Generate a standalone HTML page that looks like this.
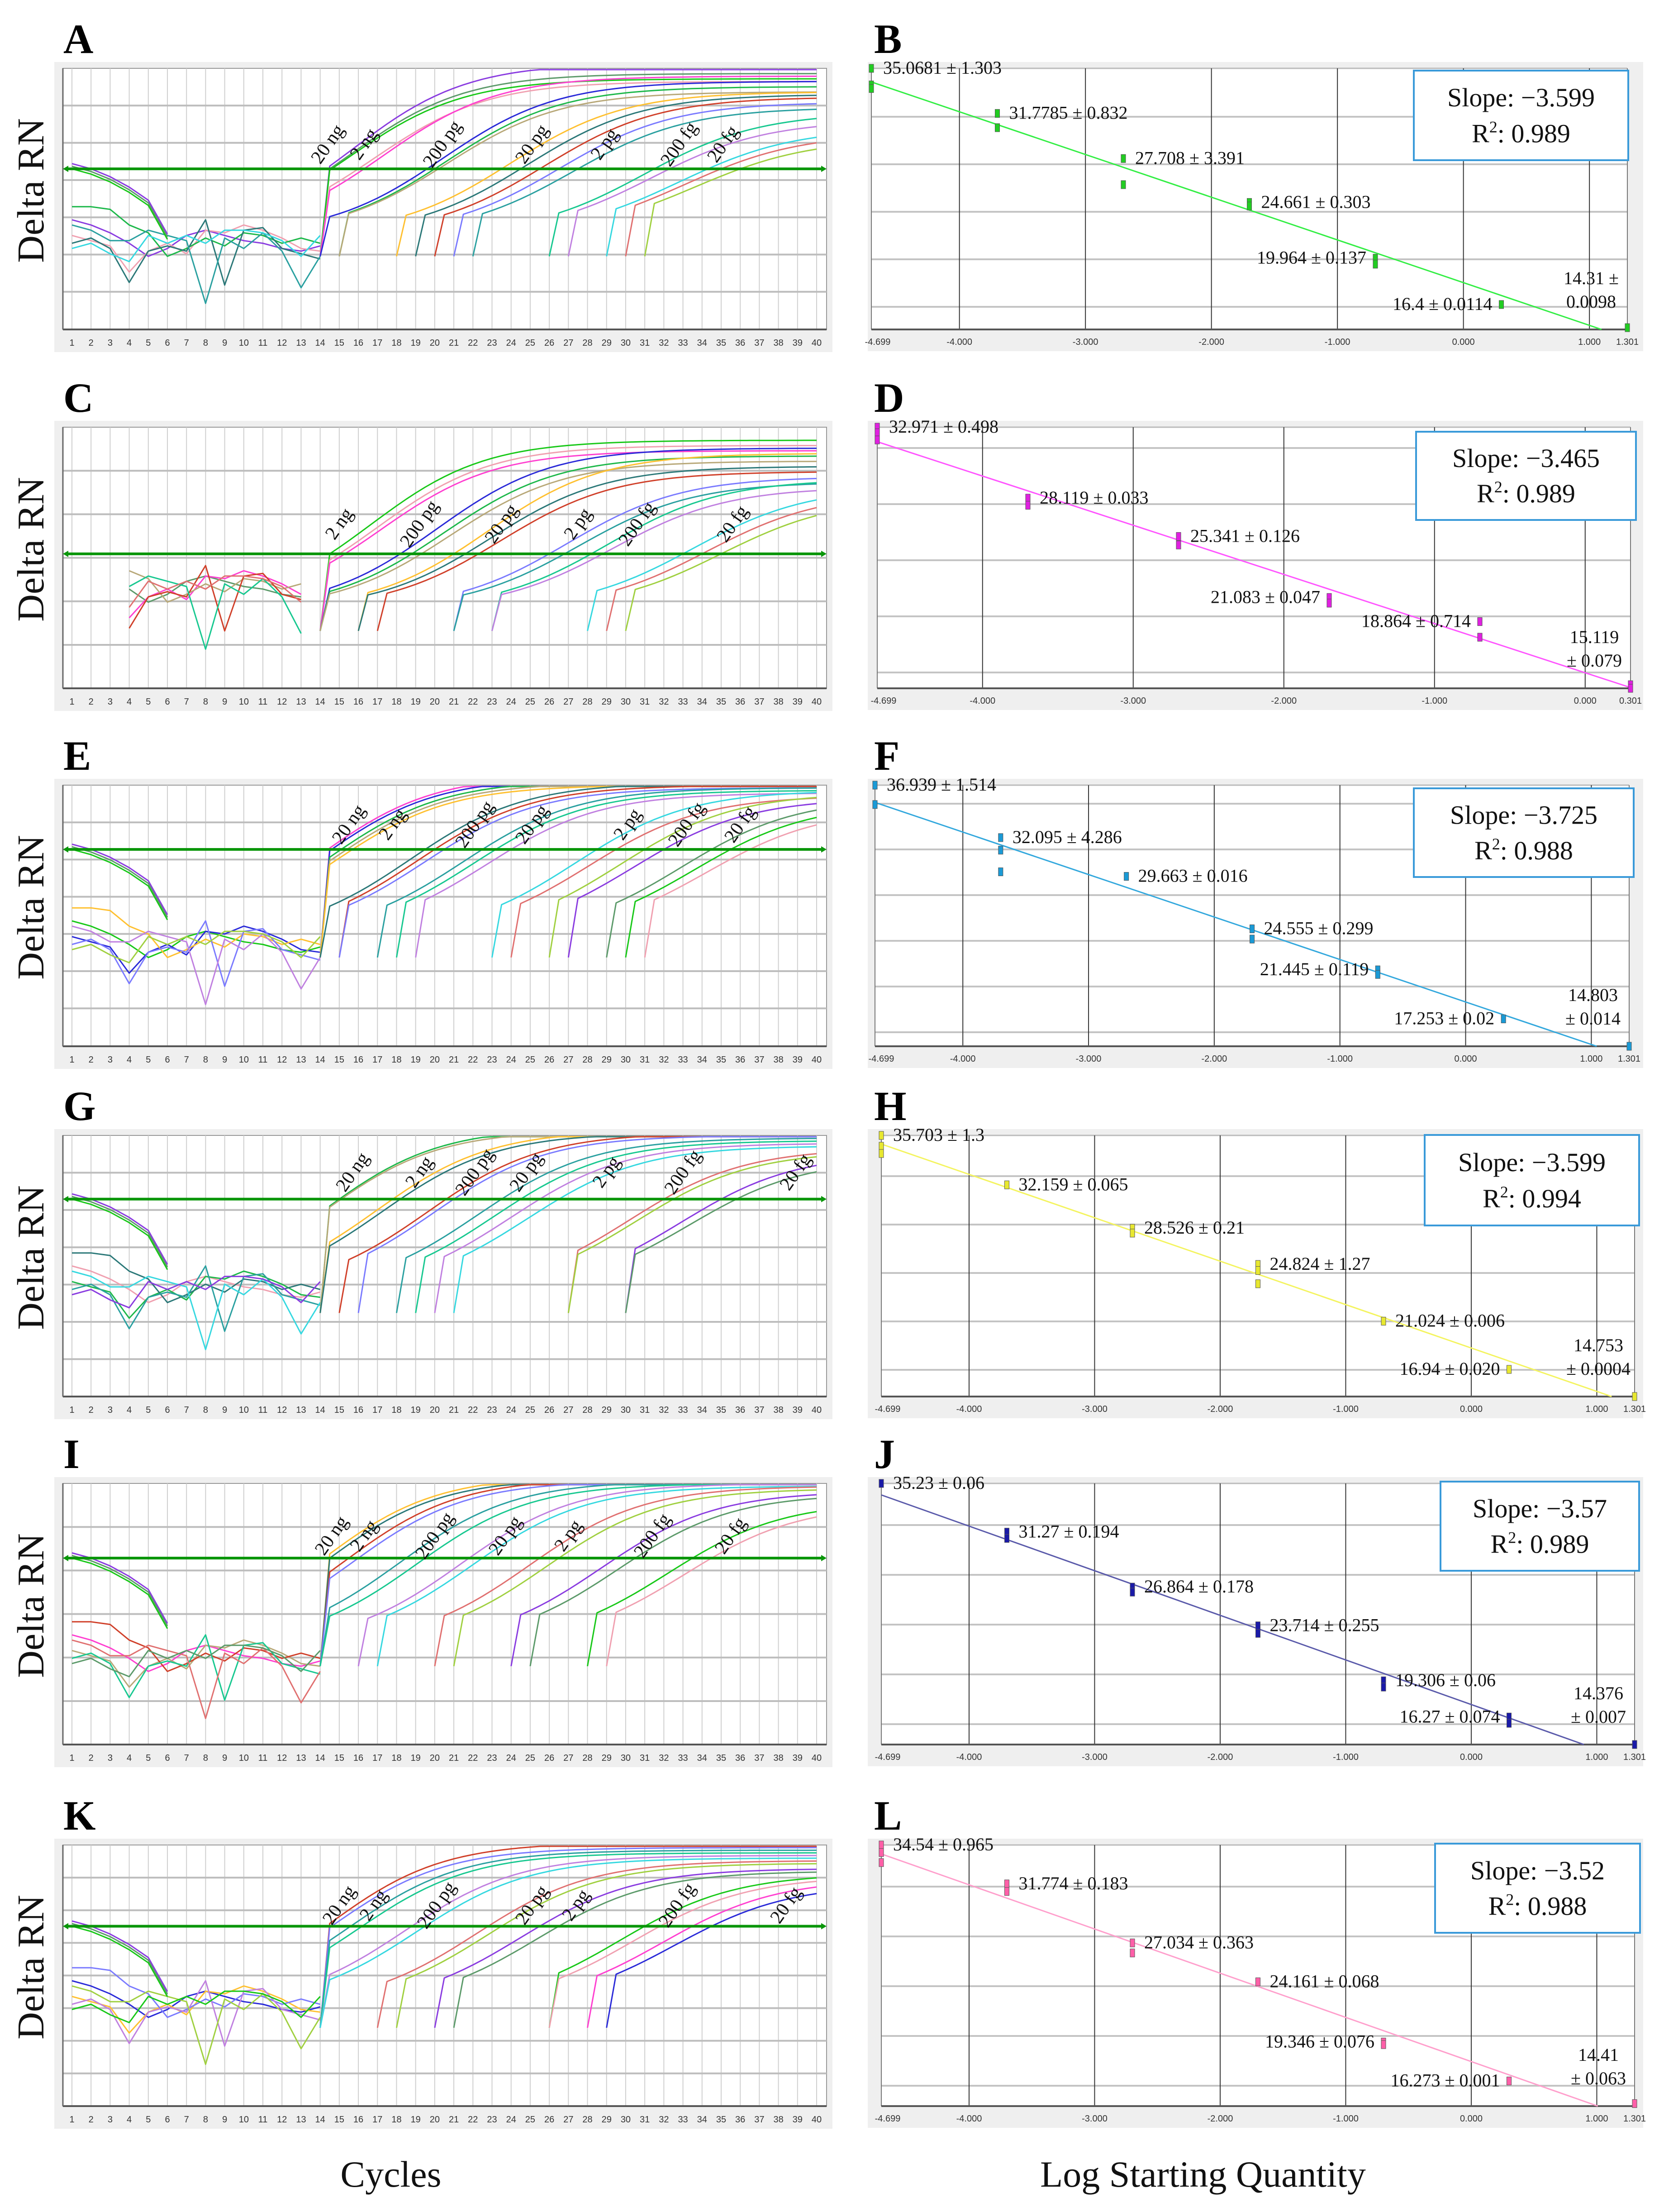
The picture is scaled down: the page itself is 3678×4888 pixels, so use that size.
<!DOCTYPE html>
<html><head><meta charset="utf-8"><title>qPCR amplification and standard curves</title>
<style>
html,body{margin:0;padding:0;background:#fff;}
svg{display:block;}
text{font-family:"Liberation Serif",serif;}
.tick{font-family:"Liberation Sans",sans-serif;font-size:20px;fill:#333;}
</style></head>
<body>
<svg id="fig" xmlns="http://www.w3.org/2000/svg" width="3678" height="4888" viewBox="0 0 3678 4888">
<rect x="0" y="0" width="3678" height="4888" fill="#ffffff"/>
<text x="864" y="4832" font-size="82" text-anchor="middle" fill="#111">Cycles</text>
<text x="2659" y="4832" font-size="82" text-anchor="middle" fill="#111">Log Starting Quantity</text>
</svg>
<script>
// ---------- amplification panel data ----------
const ampLetters=['A','C','E','G','I','K'];
const ampThreshold=[0.615,0.515,0.754,0.756,0.714,0.689];
const ampBase=[0.36,0.30,0.42,0.40,0.38,0.38];
const ampNoiseShift=[0.0,0.05,0.06,0.08,0.0,0.06];
const ampCtA=[14.3,14.5,14.6,16.0,16.3,19.6,20.0,20.2,23.5,24.5,25.5,26.5,27.5,31.5,32.3,34.3,35.0,36.0];
const ampPlatA=[0.97,0.93,0.91,0.90,0.92,0.90,0.88,0.86,0.86,0.85,0.84,0.82,0.80,0.78,0.75,0.72,0.70,0.68];
const ampCtC=[14.5,15.0,15.3,18.2,18.8,19.3,21.0,21.6,22.3,26.0,26.8,28.2,28.8,33.0,34.0,35.0];
const ampPlatC=[0.90,0.88,0.86,0.87,0.84,0.82,0.85,0.80,0.78,0.76,0.74,0.75,0.72,0.72,0.70,0.68];
const ampCtE=[14.4,14.6,15.1,15.4,15.7,19.5,20.0,20.5,22.5,23.2,24.0,28.5,29.5,31.0,32.0,34.5,35.5,36.5];
const ampPlatE=[0.99,0.98,0.97,0.96,0.95,0.96,0.95,0.94,0.94,0.93,0.92,0.93,0.91,0.92,0.90,0.90,0.88,0.86];
const ampCtG=[15.0,15.1,17.8,18.2,20.6,21.0,23.5,24.5,25.5,26.5,32.0,32.5,35.0,35.8];
const ampPlatG=[0.98,0.97,0.97,0.96,0.96,0.95,0.94,0.93,0.92,0.91,0.90,0.89,0.88,0.86];
const ampCtI=[14.2,14.5,15.5,16.0,18.5,19.5,21.8,22.5,25.5,26.5,29.5,30.5,33.5,34.5];
const ampPlatI=[0.98,0.97,0.97,0.96,0.96,0.95,0.95,0.94,0.94,0.93,0.92,0.91,0.88,0.87];
const ampCtK=[14.3,14.6,15.6,16.2,18.8,19.5,22.8,23.5,25.5,26.5,31.0,31.8,33.5,34.5];
const ampPlatK=[0.96,0.94,0.93,0.92,0.91,0.90,0.89,0.88,0.86,0.85,0.84,0.83,0.82,0.80];
const ampLabelText=['20 ng','2 ng','200 pg','20 pg','2 pg','200 fg','20 fg'];
const ampLabelCycA=[14.4,16.3,20.4,25.1,28.9,32.8,35.1];
const ampLabelCycC=[null,15.0,19.2,23.5,27.5,30.6,35.6];
const ampLabelCycE=[15.5,17.8,22.1,25.1,30.1,33.2,36.0];
const ampLabelCycG=[15.7,19.2,22.1,24.8,29.0,33.0,38.9];
const ampLabelCycI=[14.6,16.3,20.0,23.7,27.0,31.4,35.5];
const ampLabelCycK=[15.0,16.8,20.1,25.1,27.4,32.7,38.4];
const ampLabelRel=[0.29,0.37,0.15,0.14,0.20,0.23];
const noise1=[0.42,0.40,0.37,0.33,0.28,0.31,0.36,0.38,0.36,0.34,0.33,0.31,0.30,0.32];
const noise2=[0.36,0.34,0.32,0.22,0.30,0.33,0.29,0.38,0.37,0.40,0.38,0.35,0.31,0.30];
const noise3=[0.47,0.47,0.46,0.40,0.37,0.28,0.31,0.35,0.32,0.37,0.36,0.33,0.35,0.33];
const noise4=[0.33,0.35,0.31,0.18,0.30,0.32,0.30,0.42,0.17,0.38,0.39,0.31,0.29,0.27];
const noise5=[0.40,0.38,0.34,0.34,0.38,0.36,0.34,0.10,0.35,0.31,0.37,0.30,0.16,0.28];
const noise6=[0.31,0.33,0.29,0.26,0.36,0.33,0.36,0.33,0.38,0.38,0.37,0.34,0.28,0.36];
const dropOffsets=[0.02,0.0,-0.03,-0.07,-0.12,-0.25];
const cycleTicks=[1,2,3,4,5,6,7,8,9,10,11,12,13,14,15,16,17,18,19,20,21,22,23,24,25,26,27,28,29,30,31,32,33,34,35,36,37,38,39,40];

// ---------- standard curve data ----------
const stdLetters=['B','D','F','H','J','L'];
const stdX7=[-4.699,-3.699,-2.699,-1.699,-0.699,0.301,1.301];
const stdX6=[-4.699,-3.699,-2.699,-1.699,-0.699,0.301];
const stdCtB=[[36.0,34.6,34.3],[32.2,31.0],[28.4,26.2],[24.7,24.4],[20.0,19.5],[16.1],[14.15]];
const stdCtD=[[33.7,33.3,32.8],[28.7,28.2],[26.0,25.4],[21.7,21.3],[20.0,18.9],[15.55,15.3]];
const stdCtF=[[37.7,36.0],[33.1,32.0,30.1],[29.7],[25.1,24.2],[21.5,21.1],[17.2],[14.8]];
const stdCtH=[[36.4,35.5,34.9],[32.3],[28.7,28.3],[25.7,25.2,24.1],[21.0],[17.0],[14.75]];
const stdCtJ=[[35.3],[31.4,30.9],[27.0,26.6],[23.9,23.3],[19.5,19.0],[16.6,16.1],[14.4]];
const stdCtL=[[35.2,34.6,33.8],[32.1,31.5],[27.4,26.6],[24.3],[19.5,19.3],[16.4],[14.6]];
const stdLabelB=['35.0681 ± 1.303','31.7785 ± 0.832','27.708 ± 3.391','24.661 ± 0.303','19.964 ± 0.137','16.4 ± 0.0114','14.31 ±|0.0098'];
const stdLabelD=['32.971 ± 0.498','28.119 ± 0.033','25.341 ± 0.126','21.083 ± 0.047','18.864 ± 0.714','15.119|± 0.079'];
const stdLabelF=['36.939 ± 1.514','32.095 ± 4.286','29.663 ± 0.016','24.555 ± 0.299','21.445 ± 0.119','17.253 ± 0.02','14.803|± 0.014'];
const stdLabelH=['35.703 ± 1.3','32.159 ± 0.065','28.526 ± 0.21','24.824 ± 1.27','21.024 ± 0.006','16.94 ± 0.020','14.753|± 0.0004'];
const stdLabelJ=['35.23 ± 0.06','31.27 ± 0.194','26.864 ± 0.178','23.714 ± 0.255','19.306 ± 0.06','16.27 ± 0.074','14.376|± 0.007'];
const stdLabelL=['34.54 ± 0.965','31.774 ± 0.183','27.034 ± 0.363','24.161 ± 0.068','19.346 ± 0.076','16.273 ± 0.001','14.41|± 0.063'];
const stdSlope=[-3.599,-3.465,-3.725,-3.599,-3.57,-3.52];
const stdR2=['0.989','0.989','0.988','0.994','0.989','0.988'];
const stdCtMin=[14.0,15.3,14.8,14.75,14.4,14.4];
const stdCtMax=[36.0,33.7,37.7,36.4,35.3,35.2];
const stdXMax=[1.301,0.301,1.301,1.301,1.301,1.301];
const stdXTicks7=[-4.699,-4,-3,-2,-1,0,1,1.301];
const stdXTicks6=[-4.699,-4,-3,-2,-1,0,0.301];

// ---------- layout (styles) ----------
const NS='http://www.w3.org/2000/svg';
const svg=document.getElementById('fig');
const rowTops=[151,944,1735,2509,3278,4077];
const PH=577;
const LPX0=139, LPX1=1827;
const ampHStep=[82.3,96.2,82.2,82.4,96.2,72.1];
const stdPL=[1926,1939,1934,1948,1948,1948];
const stdPR=[3597,3604,3601,3613,3613,3613];
const stdGrid=[[107,105],[46,124],[41,101],[90,107],[92,110],[92,110]];
const stdLegendBox=[[3125,156,474,198],[3130,954,486,195],[3125,1742,486,196],[3149,2508,474,200],[3184,3274,439,197],[3172,4074,453,197]];
const stdColor=['#22cc22','#e020e0','#1a9ad6','#e8e830','#1a1aa8','#ff5fa8'];
const stdLineColor=['#33ee44','#ff55ff','#33a8dd','#f4f460','#5a5aaa','#ff9fcc'];
const stdSide=[['r','r','r','r','l','l','2'],['r','r','r','l','l','2'],['r','r','r','r','l','l','2'],['r','r','r','r','r','l','2'],['r','r','r','r','r','l','2'],['r','r','r','r','l','l','2']];
const palette=['#8a3ce0','#5c9a6a','#18c818','#f0a0b0','#ff3fd0','#2a2ad8','#1db84a','#b8a878','#ffc030','#2b7878','#d0402a','#7a7aff','#2aa0a0','#18c890','#c080e0','#36d8e0','#e07070','#a0d040'];

function mk(tag,attrs,parent){const e=document.createElementNS(NS,tag);for(const k in attrs)e.setAttribute(k,attrs[k]);(parent||svg).appendChild(e);return e;}

const ampCt=[ampCtA,ampCtC,ampCtE,ampCtG,ampCtI,ampCtK];
const ampPlat=[ampPlatA,ampPlatC,ampPlatE,ampPlatG,ampPlatI,ampPlatK];
const ampLabCyc=[ampLabelCycA,ampLabelCycC,ampLabelCycE,ampLabelCycG,ampLabelCycI,ampLabelCycK];
const noises=[noise1,noise2,noise3,noise4,noise5,noise6];

// ---------- amplification panels ----------
for(let p=0;p<6;p++){
  const top=rowTops[p], bot=top+PH;
  const g=mk('g',{});
  
  
  const xs=c=>159+(c-1)*(1805-159)/39;
  const ys=v=>bot-v*PH;
  const letter=mk('text',{x:140,y:top-34,'font-size':92,'font-weight':'bold',fill:'#000'},g);
  letter.textContent=ampLetters[p];
  
  
  const bg=mk('rect',{x:120,y:top-14,width:1720,height:PH+64,fill:'#efefef'},g);
  
  
  const pa=mk('rect',{x:LPX0,y:top,width:LPX1-LPX0,height:PH,fill:'#ffffff',stroke:'#999','stroke-width':2},g);
  
  
  for(const c of cycleTicks){
    const vl=mk('line',{x1:xs(c),x2:xs(c),y1:top,y2:bot,stroke:'#cfcfcf','stroke-width':2},g);
    
    
    const t=mk('text',{x:xs(c),y:bot+36,'text-anchor':'middle',class:'tick'},g);
    t.textContent=c;
    
    
  }
  for(let y=top+ampHStep[p];y<bot-10;y+=ampHStep[p]){
    const hl=mk('line',{x1:LPX0,x2:LPX1,y1:y,y2:y,stroke:'#bdbdbd','stroke-width':4},g);
    
    
  }
  const ax=mk('line',{x1:LPX0,x2:LPX1,y1:bot,y2:bot,stroke:'#555','stroke-width':4},g);
  
  
  const ay=mk('line',{x1:LPX0,x2:LPX0,y1:top,y2:bot,stroke:'#666','stroke-width':3},g);
  
  
  const yt=mk('text',{x:0,y:0,'font-size':84,'text-anchor':'middle',fill:'#111',transform:`translate(96 ${top+270}) rotate(-90)`},g);
  yt.textContent='Delta RN';
  
  
  const cg=mk('g',{fill:'none','stroke-width':3,'stroke-linejoin':'round'},g);
  const T=ampThreshold[p], sh=ampNoiseShift[p], base=ampBase[p];
  noises.forEach((arr,i)=>{
    const c0=(p===1)?4:1, c1=(p===1)?13:14;
    let d='';
    for(let c=c0;c<=c1;c++){d+=(c===c0?'M':'L')+xs(c).toFixed(1)+' '+ys(arr[c-1]+sh).toFixed(1)+' ';}
    const pl=mk('path',{d:d,stroke:palette[(i*3+p)%palette.length]},cg);
    
    
  });
  if(p!==1){
    for(let k=0;k<3;k++){
      let d='';
      dropOffsets.forEach((o,i)=>{d+=(i===0?'M':'L')+xs(i+1).toFixed(1)+' '+ys(T+o-k*0.01).toFixed(1)+' ';});
      const dl=mk('path',{d:d,stroke:palette[k]},cg);
      
      
    }
  }
  ampCt[p].forEach((ct,i)=>{
    const plat=ampPlat[p][i]+0.05, kk=3.0;
    const m=ct+kk*Math.log((plat-base)/(T-base)-1);
    const c0=Math.max(14,Math.floor(ct-5));
    let d='M'+xs(c0).toFixed(1)+' '+ys(base-0.08).toFixed(1)+' ';
    for(let c=c0+0.5;c<=40.001;c+=0.5){
      const v=base+(plat-base)/(1+Math.exp(-(c-m)/kk));
      d+='L'+xs(c).toFixed(1)+' '+ys(Math.min(v,0.995)).toFixed(1)+' ';
    }
    const cv=mk('path',{d:d,stroke:palette[(i+p*2)%palette.length]},cg);
    
    
  });
  const th=mk('line',{x1:LPX0+6,x2:LPX1-6,y1:ys(T),y2:ys(T),stroke:'#0a960a','stroke-width':6},g);
  
  
  const ah=mk('path',{d:`M${LPX0} ${ys(T)} l12 -7 v14 z M${LPX1} ${ys(T)} l-12 -7 v14 z`,fill:'#0a960a'},g);
  
  
  ampLabCyc[p].forEach((c,i)=>{
    if(c===null)return;
    const y=top+ampLabelRel[p]*PH;
    const lt=mk('text',{x:0,y:0,'font-size':42,'text-anchor':'middle','dominant-baseline':'central',fill:'#111',transform:`translate(${xs(c).toFixed(1)} ${y.toFixed(1)}) rotate(-55)`},g);
    lt.textContent=ampLabelText[i];
    
    
  });
}

// ---------- standard curve panels ----------
const stdCt=[stdCtB,stdCtD,stdCtF,stdCtH,stdCtJ,stdCtL];
const stdLabels=[stdLabelB,stdLabelD,stdLabelF,stdLabelH,stdLabelJ,stdLabelL];
for(let p=0;p<6;p++){
  const top=rowTops[p], bot=top+PH, L=stdPL[p], R=stdPR[p];
  const xv=(p===1)?stdX6:stdX7;
  const xt=(p===1)?stdXTicks6:stdXTicks7;
  const xmin=-4.699, xmax=stdXMax[p];
  const xs=x=>L+(x-xmin)/(xmax-xmin)*(R-L);
  const ys=c=>bot-(c-stdCtMin[p])/(stdCtMax[p]-stdCtMin[p])*PH;
  const g=mk('g',{});
  
  
  const letter=mk('text',{x:1932,y:top-34,'font-size':92,'font-weight':'bold',fill:'#000'},g);
  letter.textContent=stdLetters[p];
  
  
  const bg=mk('rect',{x:1918,y:top-14,width:1714,height:PH+62,fill:'#efefef'},g);
  
  
  const pa=mk('rect',{x:L,y:top,width:R-L,height:PH,fill:'#ffffff'},g);
  
  
  const [g0,gs]=stdGrid[p];
  for(let y=top+g0;y<bot-10;y+=gs){
    const hl=mk('line',{x1:L,x2:R,y1:y,y2:y,stroke:'#c4c4c4','stroke-width':4},g);
    
    
  }
  const tl=mk('line',{x1:L,x2:R,y1:top,y2:top,stroke:'#bbb','stroke-width':3},g);
  
  
  xt.forEach((x,i)=>{
    const isEnd=(i===0||i===xt.length-1);
    const vl=mk('line',{x1:xs(x),x2:xs(x),y1:top,y2:bot,stroke:isEnd?'#777':'#333','stroke-width':2},g);
    
    
    const t=mk('text',{x:xs(x)+(i===0?14:0),y:bot+34,'text-anchor':'middle',class:'tick'},g);
    t.textContent=x.toFixed(3);
    
    
  });
  const ax=mk('line',{x1:L,x2:R,y1:bot,y2:bot,stroke:'#555','stroke-width':4},g);
  
  
  let sx=0,sc=0,n=0;
  stdCt[p].forEach((arr,i)=>arr.forEach(c=>{sx+=xv[i];sc+=c;n++;}));
  const slope=stdSlope[p], icpt=sc/n-slope*(sx/n);
  const xEnd=Math.min(xmax,(stdCtMin[p]-icpt)/slope);
  const rl=mk('line',{x1:xs(xmin),y1:ys(slope*xmin+icpt),x2:xs(xEnd),y2:ys(slope*xEnd+icpt),stroke:stdLineColor[p],'stroke-width':3},g);
  
  
  stdCt[p].forEach((arr,i)=>{
    arr.forEach(c=>{
      const pt=mk('rect',{x:xs(xv[i])-5,y:Math.min(ys(c),bot)-9,width:10,height:18,fill:stdColor[p],stroke:'#555','stroke-width':1},g);
      
      
    });
  });
  stdLabels[p].forEach((lab,i)=>{
    const arr=stdCt[p][i];
    const side=stdSide[p][i];
    if(side==='2'){
      const parts=lab.split('|');
      parts.forEach((s,k)=>{
        const t=mk('text',{x:R-80,y:bot-100+k*52,'font-size':40,'text-anchor':'middle',fill:'#111'},g);
        t.textContent=s;
        
        
      });
    } else {
      const right=side==='r';
      const t=mk('text',{x:xs(xv[i])+(right?26:-20),y:ys(Math.max(...arr))+12,'font-size':40,'text-anchor':right?'start':'end',fill:'#111'},g);
      t.textContent=lab;
      
      
    }
  });
  const [bx,by,bw,bh]=stdLegendBox[p];
  const lb=mk('rect',{x:bx,y:by,width:bw,height:bh,fill:'#ffffff',stroke:'#3a9ad9','stroke-width':4},g);
  
  
  const s1=mk('text',{x:bx+bw/2,y:by+bh*0.40,'font-size':58,'text-anchor':'middle',fill:'#111'},g);
  s1.textContent='Slope: \u2212'+Math.abs(stdSlope[p]);
  
  
  const s2=mk('text',{x:bx+bw/2,y:by+bh*0.80,'font-size':58,'text-anchor':'middle',fill:'#111'},g);
  
  
  const t1=mk('tspan',{},s2);t1.textContent='R';
  const t2=mk('tspan',{dy:-22,'font-size':36},s2);t2.textContent='2';
  const t3=mk('tspan',{dy:22},s2);t3.textContent=':  '+stdR2[p];
}
</script>
</body></html>
